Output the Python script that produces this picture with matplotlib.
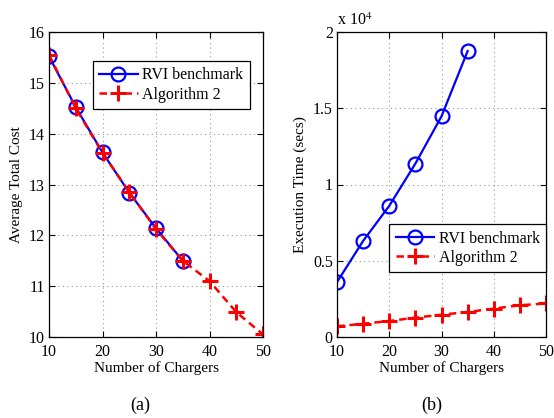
import numpy as np
import matplotlib.pyplot as plt

plt.rcParams['font.family'] = ['Liberation Serif', 'DejaVu Serif']
plt.rcParams['mathtext.fontset'] = 'stix'

chargers_rvi = [10, 15, 20, 25, 30, 35]
chargers_alg = [10, 15, 20, 25, 30, 35, 40, 45, 50]

cost_rvi = [15.52, 14.52, 13.63, 12.84, 12.14, 11.50]
cost_alg = [15.55, 14.50, 13.62, 12.85, 12.12, 11.50, 11.10, 10.49, 10.05]

time_rvi = [3600, 6300, 8600, 11370, 14470, 18750]
time_alg = [700, 870, 1050, 1270, 1460, 1640, 1860, 2080, 2200]

fig = plt.figure(figsize=(5.54, 4.18), dpi=100)
ax1 = fig.add_axes([49 / 554, 1 - 337 / 418, 214 / 554, 305 / 418])
ax2 = fig.add_axes([337 / 554, 1 - 337 / 418, 209 / 554, 305 / 418])

fs = 11.5
leg_kw = dict(loc='upper left', fontsize=11.5, fancybox=False, edgecolor='black',
              framealpha=1, handlelength=2.4, borderpad=0.4, labelspacing=0.2,
              handletextpad=0.3, borderaxespad=0)

# same styling on both panels
for ax, y_rvi, y_alg in ((ax1, cost_rvi, cost_alg), (ax2, time_rvi, time_alg)):
    ax.plot(chargers_rvi, y_rvi, '-o', color='#0000ff', lw=1.6, ms=10, mfc='none',
            mew=1.6, label='RVI benchmark')
    ax.plot(chargers_alg, y_alg, '--+', color='#ff0000', lw=1.8, ms=11, mew=2.2,
            label='Algorithm 2', dashes=(3, 2))
    ax.set_xlim(10, 50)
    ax.set_xticks([10, 20, 30, 40, 50])
    ax.grid(color='0.6', linestyle=(0, (1, 3)), linewidth=0.8)
    ax.tick_params(direction='in', top=True, right=True, labelsize=fs, length=4)
    ax.tick_params(axis='x', pad=5)
    ax.tick_params(axis='y', pad=3)
    ax.set_xlabel('Number of Chargers', fontsize=11, labelpad=1)
    for s in ax.spines.values():
        s.set_linewidth(0.9)

# (a) average cost
ax1.set_ylim(10, 16)
ax1.set_yticks(range(10, 17))
ax1.set_ylabel('Average Total Cost', fontsize=11, labelpad=4)
leg1 = ax1.legend(bbox_to_anchor=(0.205, 0.905), **leg_kw)
leg1.get_frame().set_linewidth(0.9)

# (b) execution time
ax2.set_ylim(0, 20000)
ax2.set_yticks([0, 5000, 10000, 15000, 20000])
ax2.set_yticklabels(['0', '0.5', '1', '1.5', '2'])
ax2.set_ylabel('Execution Time (secs)', fontsize=11, labelpad=4)
ax2.text(0.0, 1.01, r'x 10$^4$', transform=ax2.transAxes, fontsize=fs, ha='left', va='bottom')
leg2 = ax2.legend(bbox_to_anchor=(0.25, 0.37), **leg_kw)
leg2.get_frame().set_linewidth(0.9)

fig.text(140 / 554, 1 - 405 / 418, '(a)', fontsize=13, ha='center', va='center')
fig.text(432 / 554, 1 - 405 / 418, '(b)', fontsize=13, ha='center', va='center')

fig.savefig('out.png', dpi=100)
